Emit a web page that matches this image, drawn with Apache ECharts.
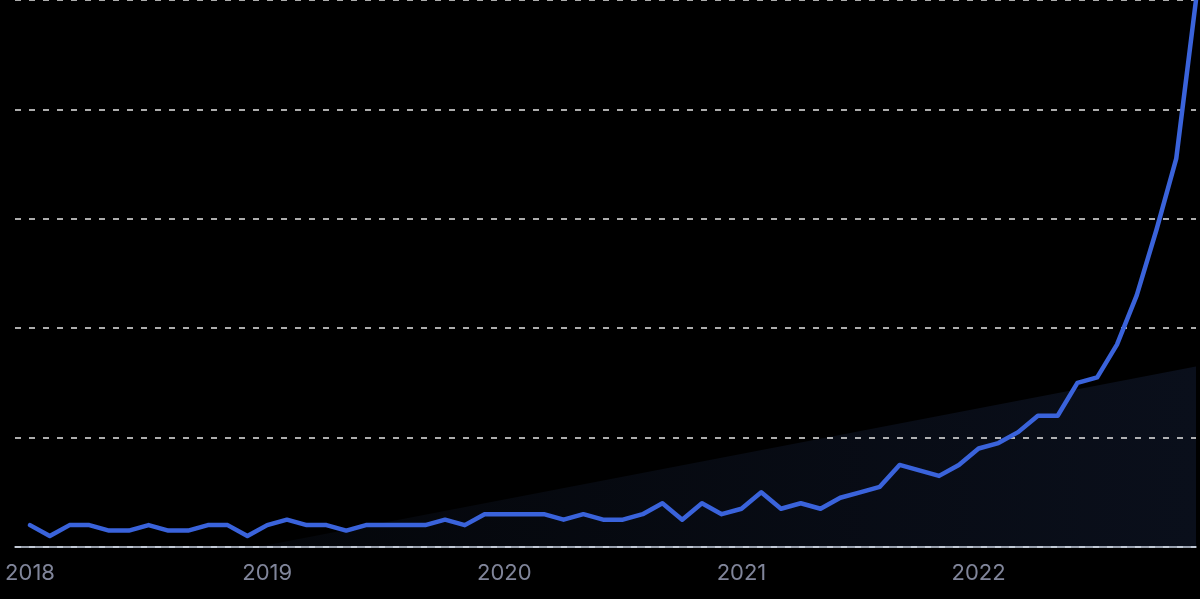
<!DOCTYPE html>
<html>
<head>
<meta charset="utf-8">
<style>
  html, body { margin: 0; padding: 0; background: #000; }
  #chart { width: 1200px; height: 599px; }
</style>
<script src="https://cdn.jsdelivr.net/npm/echarts@6/dist/echarts.min.js"></script>
</head>
<body>
<div id="chart"></div>
<script>
// Monthly values, Jan 2018 .. Dec 2022 (x = month index from Jan 2018)
const values2018 = [4, 2, 4, 4, 3, 3, 4, 3, 3, 4, 4, 2];
const values2019 = [4, 5, 4, 4, 3, 4, 4, 4, 4, 5, 4, 6];
const values2020 = [6, 6, 6, 5, 6, 5, 5, 6, 8, 5, 8, 6];
const values2021 = [7, 10, 7, 8, 7, 9, 10, 11, 15, 14, 13, 15];
const values2022 = [18, 19, 21, 24, 24, 30, 31, 37, 46, 58, 71, 100];
const yearLabels = ['2018', '2019', '2020', '2021', '2022'];
const yearTickIndex = [0, 12, 24, 36, 48];
// faint background wedge (month index, value)
const shadeX = [11.5, 59];
const shadeY = [0, 33];

const allValues = [].concat(values2018, values2019, values2020, values2021, values2022);
const lineData = allValues.map((v, i) => [i, v]);
const shadeData = shadeX.map((x, i) => [x, shadeY[i]]);

const chart = echarts.init(document.getElementById('chart'), null, { renderer: 'canvas' });
chart.setOption({
  backgroundColor: '#000000',
  animation: false,
  grid: { left: 15, right: 4, top: 0, bottom: 52, containLabel: false },
  xAxis: {
    type: 'value',
    min: -0.76,
    max: 59,
    z: 3,
    axisLine: { show: true, lineStyle: { color: '#c9d2e2', width: 1.5 } },
    axisTick: { show: false },
    splitLine: { show: false },
    axisLabel: {
      customValues: yearTickIndex,
      formatter: function (v) {
        const k = yearTickIndex.indexOf(Math.round(v));
        return k >= 0 ? yearLabels[k] : '';
      },
      color: '#80859a',
      fontSize: 22,
      fontFamily: 'Inter, Roboto, sans-serif',
      margin: 15,
      showMinLabel: true,
      showMaxLabel: true
    }
  },
  yAxis: {
    type: 'value',
    min: 0,
    max: 100,
    interval: 20,
    z: 3,
    axisLine: { show: false },
    axisTick: { show: false },
    axisLabel: { show: false },
    splitLine: {
      show: true,
      lineStyle: { color: '#e6e6e6', width: 1.5, type: [6, 8] }
    }
  },
  series: [
    {
      type: 'line',
      data: shadeData,
      symbol: 'none',
      silent: true,
      z: 1,
      lineStyle: { width: 0, opacity: 0 },
      areaStyle: {
        color: new echarts.graphic.LinearGradient(0, 0, 1, 0, [
          { offset: 0, color: '#04060a' },
          { offset: 1, color: '#0a0f1b' }
        ]),
        opacity: 1
      }
    },
    {
      type: 'line',
      data: lineData,
      symbol: 'none',
      clip: false,
      z: 5,
      lineStyle: { color: '#3a63db', width: 4.5, join: 'round', cap: 'round' }
    }
  ]
});
</script>
</body>
</html>
